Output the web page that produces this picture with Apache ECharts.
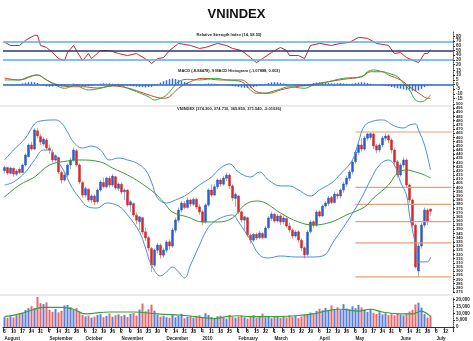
<!DOCTYPE html>
<html><head><meta charset="utf-8">
<script src="https://cdn.jsdelivr.net/npm/echarts@6/dist/echarts.min.js"></script>
<style>html,body{margin:0;padding:0;background:#fff}#c{width:473px;height:341px}</style>
</head><body><div id="c"></div>
<script>
// ---- data: daily candles [open, close, low, high] ----
const ohlc = [
[420,424,417,426],[424,417.4,415,425],[417,423.4,416,425],[423,416.2,413,424],[416,419.8,414,422],
[422,418,416,424],[418,427,417,429],[427,439,425,441],[437,450.9,436,453],[451,446,444,455],
[446,468.9,445,471],[468,461.7,459,471],[461,454.5,451,464],[452,458,450,460],[457,447.3,445,459],
[447,444.9,440,451],[442,433,430,446],[433,438,431,440],[436,418.6,416,437],[418,409,405,420],
[409,415,407,418],[415,427,413,429],[427,433,422,436],[433,444.9,431,448],[444,427,425,446],
[427,406.6,404,429],[406,391.1,388,408],[391,399,388,401],[398,385.1,383,399],[385,389.9,382,392],
[390,382.7,379,392],[383,397.1,381,399],[397,406.6,395,409],[406,401,399,412],[401,411.4,399,413],
[411,403.1,400,414],[403,413.8,401,416],[413,399.5,397,414],[399,404.3,396,406],[404,394.7,392,406],
[395,397,385,399],[397,379.1,377,398],[379,383,371,385],[381,367.2,365,382],[367,361,356,370],
[359,365,349,366],[364,346.8,344,365],[347,339.6,336,352],[340,327.7,324,342],[327,307.3,299,329],
[307,325.3,305,327],[325,331.2,321,334],[331,319.3,315,333],[319,325.3,316,328],[325,334.8,322,337],
[335,330,326,338],[330,349.2,328,352],[349,361.2,346,364],[361,373.1,358,376],[373,381.5,370,384],
[381,376,374,384],[376,385.1,375,388],[385,380.3,377,387],[380,386,378,388],[386,376.7,374,388],
[377,370.7,367,380],[371,358.8,355,373],[359,379.1,357,381],[379,397.1,377,399],[397,391,389,404],
[391,401,390,404],[401,409,398,411],[409,404.3,401,411],[404,411.4,402,414],[411,415,408,418],
[415,401.9,398,417],[402,387.5,384,404],[387,392,377,394],[390,370.7,368,391],[371,361.2,358,373],
[361,365,349,366],[364,343.2,341,365],[343,337.2,333,345],[337,344,335,346],[344,339.6,337,346],
[340,345.6,338,348],[345,340,338,347],[340,351.6,339,354],[352,363.6,350,366],[363,368.4,360,371],
[368,360,358,370],[360,366,358,368],[366,358.8,355,368],[359,363.6,356,366],[363,354,352,365],
[354,349.2,346,358],[349,342,339,351],[342,346.8,340,349],[347,337.2,334,349],[337,327.7,324,339],
[328,319.3,315,330],[320,346.8,318,349],[347,358.8,345,361],[359,355,352,361],[355,370.7,353,373],
[371,366,364,373],[366,377.9,365,380],[378,381.5,375,384],[381,387.5,378,390],[388,382,380,390],
[382,392.3,381,395],[392,389.9,386,394],[390,397.1,387,399],[397,404.3,394,407],[404,411.4,401,414],
[411,418.6,408,421],[419,430.6,416,433],[431,442.5,428,445],[442,450.9,439,453],[451,446,443,459],
[446,459.3,444,462],[459,464.1,456,466],[460,464.5,457,466.5],[464,449.7,446,466],[450,444.9,441,452],
[445,450.9,442,453],[451,459.3,448,462],[459,461.7,456,465],[462,456.9,453,464],[457,444.9,441,459],
[445,430.6,427,447],[431,415,412,433],[415,427,413,429],[427,433,424,436],[433,403.1,400,435],
[403,385.1,382,405],[385,355,352,387],[355,305,303,357],[300,330,293,333],[330,355.2,327,358],
[355,373.1,352,376],[373,358.8,355,375],[374.3,371.54,365.85,374.71]
];
const volume = [
7200,6800,7900,7000,8600,9800,10500,12500,13800,15200,
14000,22000,17500,16800,18000,12500,11000,13200,10800,11900,
15800,16200,14600,12800,13900,11200,9000,7800,8400,6900,
7600,8800,9400,7200,8100,9900,7500,8700,9200,8000,
8800,7300,9600,10200,8400,12800,17200,11500,13000,16400,
12000,9000,7600,8300,7200,6800,9400,7100,8000,9700,
6400,7500,8200,6900,7800,8600,7000,10100,8800,7400,
6600,7900,8300,7100,6200,8900,7300,6800,7600,8400,
7200,6100,7700,8600,6900,7300,9800,7100,8000,6400,
7500,8200,6800,7900,7000,8700,7400,8100,6500,7800,
9300,8800,10600,9900,11800,13400,12200,14000,12600,15800,
13100,14500,12400,16800,13600,12900,15200,13800,16200,14400,
12700,11000,13300,10400,9600,10800,9200,10100,8700,9900,
8600,10300,9100,8500,9800,11400,12600,16500,17800,14200,
9400,6900,8200
];
const macdHist = [
0.3,-0.2,0.4,-0.3,0.2,0.5,1.2,2.0,2.6,2.9,
2.4,1.6,0.4,-1.2,-2.0,-2.4,-2.1,-1.6,-1.9,-2.2,
-1.8,-0.9,0.3,1.0,0.6,-0.8,-1.6,-2.0,-1.7,-1.2,
-0.4,0.5,1.0,1.3,1.1,1.4,0.9,0.6,0.8,0.2,
-0.6,-1.2,-1.5,-2.0,-2.4,-2.6,-2.9,-3.2,-2.8,-2.5,
-1.2,0.8,2.2,3.5,4.6,5.8,6.4,5.9,5.0,3.8,
2.6,1.8,1.0,0.4,-0.3,-0.6,0.2,0.8,1.2,1.0,
0.9,0.6,0.2,-0.2,-0.5,-0.9,-1.5,-2.2,-2.8,-3.3,
-3.6,-3.8,-3.5,-2.9,-2.0,-1.2,-0.4,0.6,1.5,2.2,
2.6,2.4,1.9,1.2,0.6,0.1,-0.4,-0.9,-1.3,-1.6,
-1.8,-0.6,0.7,1.6,2.1,2.4,2.2,1.8,1.5,1.3,
1.2,1.4,1.6,1.2,0.8,0.6,1.0,1.6,2.1,2.5,
2.2,1.6,0.9,0.4,0.2,-0.2,-0.6,-1.2,-1.9,-2.7,
-3.4,-4.1,-4.6,-5.2,-5.8,-6.3,-6.8,-7.2,-6.5,-4.8,
-2.9,-1.1,0.6
];
// indicator lines: [candle index, value]
const rsi = [[0,68.2],[2,60.9],[5,60.9],[7,71.9],[10,82.8],[11,82.8],[12,60.9],[14,56.6],[16,45.6],[18,32.5],[20,28.1],[21,45.6],[23,60.9],[25,39.1],[26,28.1],[28,43.4],[29,32.5],[32,50],[35,50],[38,43.4],[41,39.1],[44,43.4],[48,28.1],[49,21.6],[51,32.5],[53,34.7],[55,50],[58,65.3],[62,60.9],[65,54.4],[67,56.6],[71,65.3],[74,60.9],[76,54.4],[79,50],[82,34.7],[84,23.8],[86,32.5],[89,45.6],[92,56.6],[94,50],[95,39.1],[98,39.1],[100,32.5],[102,60.9],[105,65.3],[109,60.9],[112,65.3],[115,67.5],[118,78.4],[121,76.3],[124,65.3],[128,60.9],[130,43.4],[132,45.6],[134,34.7],[138,23.8],[140,43.4],[141,43.4],[142,52]];
const macd = [[0,4.9],[5,4.9],[8,8.4],[11,10.3],[13,7.0],[15,3.0],[17,-0.5],[20,-4.1],[22,-2.4],[24,-0.5],[26,-4.1],[28,-5.9],[32,-4.1],[34,-2.4],[38,-0.5],[41,-4.1],[44,-7.8],[48,-13.2],[50,-16.8],[52,-14.9],[54,-11.4],[56,-4.1],[58,3.0],[61,5.6],[65,4.9],[70,6.7],[74,4.9],[79,3.0],[82,-5.9],[84,-9.5],[86,-9.5],[91,-5.9],[95,-2.4],[100,-4.1],[103,-0.5],[108,3.0],[113,6.7],[119,8.4],[121,13.8],[123,15.7],[126,13.8],[128,12.1],[131,8.4],[133,1.3],[135,-5.9],[137,-16.8],[139,-18.6],[141,-14.9],[142,-11.4]];
const signal = [[0,7.0],[5,4.9],[11,10.3],[14,4.9],[18,-0.5],[23,-2.4],[26,-2.4],[31,-3.8],[36,-1.6],[41,-3.8],[45,-7.8],[50,-13.2],[53,-14.9],[55,-13.2],[58,-4.1],[62,3.0],[66,6.7],[72,4.9],[79,4.9],[81,1.3],[84,-7.8],[88,-9.5],[92,-5.9],[97,-2.4],[102,-0.5],[108,3.0],[113,5.6],[119,8.4],[122,13.8],[126,13.8],[128,10.3],[132,4.9],[135,-2.4],[139,-11.4],[141,-14.9],[142,-14.9]];
const bbUpper = [[0,433.0],[3,444.9],[7,459.3],[10,476.1],[12,479.7],[17,480.9],[19,477.3],[21,466.5],[23,454.5],[26,447.3],[29,449.7],[32,444.9],[35,433.0],[38,435.4],[41,433.0],[44,429.4],[47,421.0],[49,406.6],[51,387.5],[54,381.5],[57,385.1],[60,389.9],[62,394.7],[65,403.1],[69,412.6],[72,423.4],[75,428.2],[78,418.6],[82,412.6],[85,418.6],[88,409.0],[92,401.9],[95,401.9],[98,397.1],[102,389.9],[105,397.1],[109,405.5],[112,416.2],[116,433.0],[118,454.5],[120,473.7],[123,479.7],[126,480.9],[130,473.7],[133,471.3],[135,474.9],[137,476.1],[138,468.9],[140,450.9],[142,421.0]];
const bbLower = [[0,403.1],[3,406.6],[7,418.6],[10,433.0],[13,444.9],[15,444.9],[17,435.4],[20,418.6],[22,403.1],[25,387.5],[28,376.7],[31,375.5],[34,381.5],[38,377.9],[41,367.2],[45,346.8],[47,327.7],[49,307.3],[52,294.2],[54,299.0],[56,304.9],[58,299.0],[60,291.8],[62,307.3],[65,331.2],[67,346.8],[69,356.4],[72,363.6],[76,367.2],[78,358.8],[82,337.2],[85,319.3],[88,315.7],[92,318.1],[97,316.9],[102,316.9],[106,318.1],[110,337.2],[115,363.6],[119,387.5],[122,409.0],[125,427.0],[128,433.0],[130,427.0],[132,406.6],[134,391.1],[135,367.2],[137,331.2],[138,311.0],[141,311.0],[142,316.9]];
const ma = [[0,388.7],[5,403.1],[10,412.6],[15,427.0],[21,431.8],[25,433.0],[32,430.6],[36,423.4],[41,415.0],[45,406.6],[50,393.5],[53,382.7],[56,370.7],[61,364.8],[66,358.8],[71,358.8],[76,363.6],[80,379.1],[84,383.9],[87,381.5],[92,369.5],[98,358.8],[103,355.2],[109,358.8],[114,367.2],[120,376.7],[123,387.5],[128,403.1],[131,417.4],[134,421.0],[137,418.6],[140,415.0],[142,411.4]];
const volMa = [[0,7560],[5,9600],[10,13000],[13,14400],[16,14400],[19,14400],[23,13000],[27,9600],[35,11000],[43,11000],[51,9600],[61,8250],[70,6200],[74,7560],[78,8250],[82,7560],[88,7560],[97,8250],[103,9600],[107,11700],[112,13000],[118,11700],[122,13000],[126,11000],[132,9600],[136,9600],[139,11700],[141,9600],[142,8000]];
const fibLevels = [466.5, 400.2, 379.8, 359.3, 333.9, 293.0];
const fibLabels = ['100.0%','61.8%','50.0%','38.2%','23.6%','0.0%'];
const fibSpan = [117, 149];
const rsiLevels = [70, 50, 30];
// tick labels
const dayTicks = ['3','10','17','24','31','7','14','21','28','5','12','19','26','2','9','16','23','30','7','14','21','28','4','11','18','25','1','8','15','22','1','8','15','22','29','5','12','19','26','3','10','17','24','31','7','14','21','28','5','12'];
const monthTicks = [[0,'August'],[15,'September'],[27,'October'],[39,'November'],[54,'December'],[66,'2010'],[78,'February'],[90,'March'],[105,'April'],[117,'May'],[132,'June'],[144,'July']];
const slotCount = 150;
const titleText = 'VNINDEX';
const rsiText = 'Relative Strength Index (14, 58.55)';
const macdText = 'MACD (-8.84478), 9 MACD Histogram (-1.07888, 0.003)';
const priceText = 'VNINDEX (374.300, 374.710, 365.850, 371.540, -5.01026)';

// ---- chart ----
const FONT = 'Liberation Sans, Arial, sans-serif';
const UP = '#2f5cc6', DOWN = '#d42a2a';
const cats = [];
for (let i = 0; i < slotCount; i++) cats.push(String(i));
const monthMap = {};
monthTicks.forEach(m => { monthMap[m[0]] = m[1]; });

const grids = [
  {left: 3, right: 20, top: 32, height: 37},
  {left: 3, right: 20, top: 66, height: 37},
  {left: 3, right: 20, top: 104, height: 188},
  {left: 3, right: 20, top: 297, height: 32}
];
function xAx(g) {
  return {type: 'category', gridIndex: g, data: cats, boundaryGap: true,
    axisLine: {show: false}, axisTick: {show: false}, axisLabel: {show: false}, splitLine: {show: false}};
}
function yAx(g, min, max, interval, extra) {
  return Object.assign({type: 'value', gridIndex: g, position: 'right', min: min, max: max, interval: interval,
    splitLine: {show: false},
    axisLine: {show: true, lineStyle: {color: '#555', width: 1, type: 'dotted'}},
    axisTick: {show: true, length: 2, lineStyle: {color: '#333'}},
    axisLabel: {fontSize: 4.5, color: '#222', fontWeight: 'bold', margin: 3, fontFamily: FONT}}, extra || {});
}
const xAxes = [xAx(0), xAx(1), xAx(2),
  Object.assign(xAx(3), {
    axisLine: {show: true, lineStyle: {color: '#333', width: 1}},
    axisTick: {show: true, length: 5, interval: (i) => i % 3 === 0, lineStyle: {color: '#333'}},
    axisLabel: {show: true, interval: (i) => i % 3 === 0, formatter: (v, i) => dayTicks[i / 3] || '',
      fontSize: 4.5, color: '#222', fontWeight: 'bold', margin: 2, fontFamily: FONT}
  }),
  {type: 'category', gridIndex: 3, data: cats, position: 'bottom', offset: 7, boundaryGap: true,
    axisLine: {show: false}, axisTick: {show: false}, splitLine: {show: false},
    axisLabel: {show: true, interval: (i) => monthMap[i] !== undefined, formatter: (v, i) => monthMap[i] || '',
      fontSize: 4.5, color: '#222', fontWeight: 'bold', margin: 2, align: 'left', fontFamily: FONT}}
];
const yAxes = [
  yAx(0, 10, 90, 10, {axisLabel: {fontSize: 4.5, color: '#222', fontWeight: 'bold', margin: 3, fontFamily: FONT, showMinLabel: false, showMaxLabel: false}}),
  yAx(1, -20, 20, 5, {axisLabel: {fontSize: 4.5, color: '#222', fontWeight: 'bold', margin: 3, fontFamily: FONT, showMaxLabel: false}}),
  yAx(2, 275, 500, 5, {axisLabel: {fontSize: 4, color: '#222', fontWeight: 'bold', margin: 3, fontFamily: FONT}}),
  yAx(3, 0, 22000, 5000, {axisLabel: {fontSize: 4.5, color: '#222', fontWeight: 'bold', margin: 3, fontFamily: FONT, showMaxLabel: false}})
];

const lineBase = {type: 'line', symbol: 'none', silent: true, animation: false};
const series = [];
series.push(Object.assign({}, lineBase, {xAxisIndex: 0, yAxisIndex: 0, data: rsi, lineStyle: {color: '#c4262e', width: 1},
  markLine: {symbol: 'none', silent: true, label: {show: false},
    data: rsiLevels.map((v, k) => ({yAxis: v, lineStyle: {color: k === 1 ? '#2a3868' : '#5aaee6', width: 1.5, type: 'solid'}}))}}));
series.push({type: 'bar', xAxisIndex: 1, yAxisIndex: 1, data: macdHist, barWidth: 1.5, itemStyle: {color: '#3a6fd0'}, silent: true, animation: false,
  markLine: {symbol: 'none', silent: true, label: {show: false}, data: [{yAxis: 0, lineStyle: {color: '#2a66c8', width: 1.5, type: 'solid'}}]}});
series.push(Object.assign({}, lineBase, {xAxisIndex: 1, yAxisIndex: 1, data: signal, smooth: 0.4, lineStyle: {color: '#c0502a', width: 1}}));
series.push(Object.assign({}, lineBase, {xAxisIndex: 1, yAxisIndex: 1, data: macd, smooth: 0.4, lineStyle: {color: '#3aa53a', width: 1}}));
// fib lines
fibLevels.forEach((lv, k) => {
  series.push(Object.assign({}, lineBase, {xAxisIndex: 2, yAxisIndex: 2, lineStyle: {color: '#e4a07c', width: 1.2},
    data: [{value: [fibSpan[0], lv], label: {show: true, position: 'left', formatter: fibLabels[k], fontSize: 4.5, fontWeight: 'bold', color: '#2040d0', distance: 3, fontFamily: FONT}},
           {value: [fibSpan[1], lv]}]}));
});
series.push(Object.assign({}, lineBase, {xAxisIndex: 2, yAxisIndex: 2, data: ma, smooth: 0.4, lineStyle: {color: '#3a9a3a', width: 1}}));
series.push(Object.assign({}, lineBase, {xAxisIndex: 2, yAxisIndex: 2, data: bbUpper, smooth: 0.4, lineStyle: {color: '#4a8fd8', width: 1}}));
series.push(Object.assign({}, lineBase, {xAxisIndex: 2, yAxisIndex: 2, data: bbLower, smooth: 0.4, lineStyle: {color: '#4a8fd8', width: 1}}));
series.push({type: 'candlestick', xAxisIndex: 2, yAxisIndex: 2, data: ohlc, barWidth: 1.8, silent: true, animation: false,
  itemStyle: {color: UP, color0: DOWN, borderColor: UP, borderColor0: DOWN, borderWidth: 0.5}});
series.push({type: 'bar', xAxisIndex: 3, yAxisIndex: 3, barWidth: 2, silent: true, animation: false,
  data: volume.map((v, i) => ({value: v, itemStyle: {color: ohlc[i][1] >= ohlc[i][0] ? '#5d7fd8' : '#e8686a'}}))});
series.push(Object.assign({}, lineBase, {xAxisIndex: 3, yAxisIndex: 3, data: volMa, smooth: 0.4, lineStyle: {color: '#3aa03a', width: 1.2}}));

function label(x, y, t, size) {
  return {type: 'text', silent: true, z: 100, style: {x: x, y: y, text: t, fill: '#222', align: 'center', verticalAlign: 'middle',
    textAlign: 'center', textVerticalAlign: 'middle', font: 'bold ' + size + 'px ' + FONT}};
}
const chart = echarts.init(document.getElementById('c'), null, {renderer: 'canvas'});
chart.setOption({
  backgroundColor: '#fff',
  animation: false,
  title: {text: titleText, left: 'center', top: 3, textStyle: {fontSize: 13, fontWeight: 'bold', color: '#111', fontFamily: FONT}},
  grid: grids,
  xAxis: xAxes,
  yAxis: yAxes,
  series: series,
  graphic: [
    {type: 'line', silent: true, shape: {x1: 0, y1: 106, x2: 453, y2: 106}, style: {stroke: '#d4d4d4', lineWidth: 1}},
    {type: 'line', silent: true, shape: {x1: 0, y1: 295, x2: 453, y2: 295}, style: {stroke: '#d4d4d4', lineWidth: 1}},
    label(229, 35, rsiText, 4),
    label(229, 71, macdText, 4),
    label(229, 109, priceText, 4)
  ]
});
</script>
</body></html>
